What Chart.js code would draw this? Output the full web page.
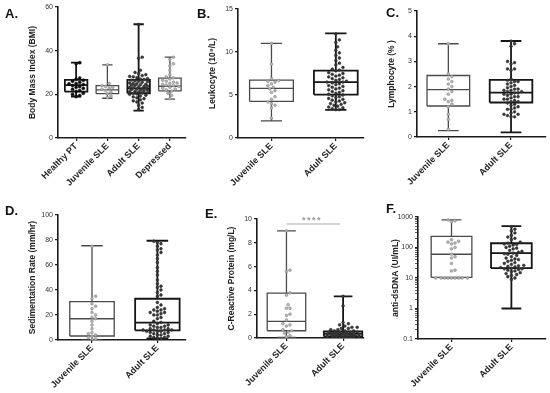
<!DOCTYPE html>
<html><head><meta charset="utf-8">
<script src="https://cdn.jsdelivr.net/npm/chart.js@4.4.1/dist/chart.umd.min.js"></script>
<style>
html,body{margin:0;padding:0;background:#fff}
body{width:550px;height:393px;position:relative;overflow:hidden;font-family:"Liberation Sans",Arial,sans-serif}
canvas{position:absolute}
.lab{position:absolute;font-weight:bold;font-size:13px;line-height:13px;color:#111}
.sig{position:absolute;font-weight:bold;font-size:9px;line-height:9px;color:#999;letter-spacing:1.5px}
</style></head><body>
<canvas id="cA" width="190" height="195" style="left:0;top:0"></canvas>
<canvas id="cB" width="188" height="195" style="left:180px;top:0"></canvas>
<canvas id="cC" width="190" height="195" style="left:360px;top:0"></canvas>
<canvas id="cD" width="190" height="198" style="left:0;top:195px"></canvas>
<canvas id="cE" width="188" height="198" style="left:180px;top:195px"></canvas>
<canvas id="cF" width="190" height="198" style="left:360px;top:195px"></canvas>
<div class="lab" style="left:5px;top:7px">A.</div>
<div class="lab" style="left:197px;top:7px">B.</div>
<div class="lab" style="left:386px;top:6px">C.</div>
<div class="lab" style="left:5px;top:204px">D.</div>
<div class="lab" style="left:205px;top:207px">E.</div>
<div class="lab" style="left:386px;top:202px">F.</div>
<div class="sig" style="left:302px;top:216px">****</div>
<script>
// ---------- data ----------
const bmiLabels = ["Healthy PT", "Juvenile SLE", "Adult SLE", "Depressed"];
// five-number summaries: [min, q1, median, q3, max]
const bmiBoxes = [[19, 21.2, 24.2, 26.6, 34.5], [18.2, 20.3, 22, 24, 33.5], [12.5, 20.5, 22.7, 26.6, 52.1], [17.8, 21.6, 23.7, 27.4, 37]];
const bmiHealthyPts = [34.5, 34, 27.5, 27, 26.5, 26, 25.5, 25, 24.8, 24.5, 24, 23.6, 23.2, 22.8, 22.3, 21.8, 21.3, 20.5, 20, 19.5, 19];
const bmiJuvPts = [33.5, 25, 24, 23.6, 23.2, 22.8, 22.3, 21.8, 21, 20.3, 19.2, 18.5];
const bmiAdultPts = [52, 37, 36.5, 31, 30, 29.5, 29, 28.6, 28.2, 28, 27.6, 27.2, 27, 26.8, 26.5, 26.2, 26, 25.8, 25.5, 25.2, 25, 24.8, 24.6, 24.4, 24.2, 24, 23.8, 23.6, 23.4, 23.2, 23, 22.8, 22.6, 22.4, 22.2, 22, 21.8, 21.6, 21.4, 21.2, 21, 20.8, 20.6, 20.4, 20.2, 20, 19.6, 19.2, 18.8, 18.4, 18, 17.5, 17, 16.5, 16, 15, 14, 13];
const bmiDepPts = [37, 36, 34, 33, 31, 29, 28, 27.5, 27, 26.5, 26, 25.6, 25.2, 25, 24.6, 24.2, 24, 23.6, 23.2, 22.8, 22.4, 22, 21.5, 20.5, 19.5, 18];
const bmiTicks = [0, 20, 40, 60];

const sleLabels = ["Juvenile SLE", "Adult SLE"];

const wbcBoxes = [[2.0, 4.27, 5.78, 6.74, 11], [3.26, 5.04, 6.5, 7.83, 12.17]];
const wbcJuvPts = [11, 8.6, 6.9, 6.7, 6.6, 6.5, 6.3, 6.1, 5.9, 5.7, 5.5, 5.3, 4.8, 4.5, 4.2, 4.0, 3.8, 3.5, 2.3];
const wbcAdultPts = [12.1, 11.4, 11.1, 10.6, 10.2, 9.9, 9.6, 9.3, 9.0, 8.7, 8.5, 8.2, 8.0, 7.9, 7.8, 7.6, 7.5, 7.4, 7.3, 7.2, 7.1, 7.0, 6.9, 6.8, 6.7, 6.6, 6.5, 6.5, 6.4, 6.3, 6.2, 6.1, 6.0, 5.9, 5.8, 5.7, 5.6, 5.5, 5.4, 5.3, 5.2, 5.1, 5.0, 4.9, 4.8, 4.7, 4.6, 4.5, 4.4, 4.3, 4.2, 4.1, 4.0, 3.9, 3.8, 3.7, 3.6, 3.5, 3.4, 3.3, 3.3];
const wbcTicks = [0, 5, 10, 15];

const lymBoxes = [[0.25, 1.23, 1.88, 2.44, 3.70], [0.18, 1.37, 1.76, 2.27, 3.81]];
const lymJuvPts = [3.7, 2.5, 2.4, 2.3, 2.2, 2.1, 2.0, 1.9, 1.8, 1.7, 1.5, 1.45, 1.4, 1.3, 1.2, 0.9, 0.7, 0.3];
const lymAdultPts = [3.8, 3.7, 3.6, 3.0, 2.95, 2.9, 2.7, 2.7, 2.65, 2.3, 2.25, 2.2, 2.2, 2.15, 2.1, 2.05, 2.0, 1.95, 1.9, 1.9, 1.85, 1.85, 1.8, 1.8, 1.75, 1.75, 1.7, 1.7, 1.65, 1.6, 1.6, 1.55, 1.5, 1.5, 1.45, 1.4, 1.4, 1.35, 1.3, 1.25, 1.2, 1.15, 1.1, 1.1, 1.0, 0.95, 0.9, 0.9, 0.85, 0.8, 0.8];
const lymTicks = [0, 1, 2, 3, 4, 5];

const esrBoxes = [[0, 3.2, 17, 30.7, 75.4], [1.2, 7.7, 13.9, 33, 79.4]];
const esrJuvPts = [75, 35, 33, 29, 27, 25, 22, 20, 18, 17, 15, 12, 9, 6, 5, 4, 3, 2, 1, 0];
const esrAdultPts = [79, 78, 77, 75, 73, 72, 70, 68, 65, 62, 58, 55, 52, 48, 45, 43, 42, 40, 38, 36, 35, 30, 28, 26, 25, 24, 24, 23, 22, 22, 21, 20, 20, 18, 17, 15, 14, 13, 12, 12, 11, 11, 10, 10, 9, 9, 8, 8, 8, 8, 7, 7, 7, 6, 6, 5, 5, 4, 4, 3, 3, 2, 2, 1, 1];
const esrTicks = [0, 20, 40, 60, 80, 100];

const crpBoxes = [[0.05, 0.61, 1.39, 3.77, 9.0], [0, 0.13, 0.36, 0.55, 3.5]];
const crpJuvPts = [9.0, 5.7, 5.6, 3.8, 3.6, 2.8, 2.5, 2.5, 2.0, 1.9, 1.5, 1.2, 1.1, 1.0, 0.7, 0.6, 0.5, 0.4, 0.2, 0.1];
const crpAdultPts = [3.5, 2.7, 1.3, 1.2, 1.1, 1.0, 0.9, 0.9, 0.8, 0.8, 0.7, 0.7, 0.6, 0.6, 0.6, 0.5, 0.5, 0.5, 0.5, 0.4, 0.4, 0.4, 0.4, 0.4, 0.3, 0.3, 0.3, 0.3, 0.3, 0.3, 0.2, 0.2, 0.2, 0.2, 0.2, 0.2, 0.1, 0.1, 0.1, 0.1, 0.1, 0.1, 0.05, 0.05, 0.05, 0.05];
const crpTicks = [0, 2, 4, 6, 8, 10];
const crpSigLevel = 9.58;

const dnaBoxes = [[10, 10.5, 60, 230, 810], [1.0, 21, 65, 138, 500]];
const dnaJuvPts = [800, 750, 700, 180, 160, 150, 140, 130, 100, 90, 60, 50, 45, 30, 18, 17, 10, 10, 10, 10, 10, 10, 10, 10, 10];
const dnaAdultPts = [480, 400, 350, 300, 250, 220, 200, 180, 150, 140, 130, 125, 120, 110, 100, 95, 90, 80, 75, 70, 65, 62, 60, 55, 50, 45, 42, 40, 38, 35, 32, 30, 28, 26, 25, 24, 23, 22, 21, 20, 20, 19, 18, 17, 16, 15, 14, 13, 12, 11, 10, 9];
const dnaMajorTicks = [0.1, 1, 10, 100, 1000];

// ---------- styles ----------
const DARK = {box: '#151515', bw: 1.8, pt: '#3a3a3a', ptb: '#222', pr: 1.4};
const MID = {box: '#4a4a4a', bw: 1.3, pt: '#b5b5b5', ptb: '#808080', pr: 1.4};
const BLACKPT = {box: '#151515', bw: 1.8, pt: '#111', ptb: '#000', pr: 1.5};

// beeswarm-style horizontal spread (layout only), clamped to the box width
function swarm(vals, toPx, pxPerX, d, maxPx) {
  const ys = vals.map(toPx);
  const order = ys.map((_, i) => i).sort((a, b) => ys[a] - ys[b]);
  const placed = [], off = new Array(vals.length).fill(0);
  const step = d / 2;
  const nC = Math.floor(maxPx / step);
  const cands = [0];
  for (let k = 1; k <= nC; k++) { cands.push(k * step, -k * step); }
  for (const i of order) {
    const y = ys[i];
    let best = null, bestD = -1, bestC = 0;
    for (const c of cands) {
      let m = Infinity;
      for (const p of placed) { const dd = (p.x - c) ** 2 + (p.y - y) ** 2; if (dd < m) m = dd; }
      if (m >= d * d) { best = c; break; }
      if (m > bestD) { bestD = m; bestC = c; }
    }
    if (best === null) best = bestC;
    placed.push({x: best, y});
    off[i] = best / pxPerX;
  }
  return off;
}

function makePanel(p) {
  const W = p.w, H = p.h;
  const plotW = p.R - p.L, plotH = p.B - p.T;
  const pxPerX = plotW / (p.xMax - p.xMin);
  const pxPerY = p.log ? plotH / (Math.log10(p.yMax) - Math.log10(p.yMin)) : plotH / (p.yMax - p.yMin);
  const toPx = v => p.log ? Math.log10(v) * pxPerY : v * pxPerY;
  const bwH = p.boxHalf || 0.34, capH = 0.165;
  const datasets = [];
  p.groups.forEach((g, i) => {
    const off = swarm(g.pts, toPx, pxPerX, 3.6, bwH * pxPerX - 2);
    datasets.push({
      data: g.pts.map((v, k) => ({x: i + off[k], y: v})),
      showLine: false, pointRadius: g.st.pr, pointBackgroundColor: g.st.pt,
      pointBorderColor: g.st.ptb, pointBorderWidth: 0.5, order: 0
    });
  });
  p.groups.forEach((g, i) => {
    const [mn, q1, md, q3, mx] = g.box;
    const gap = {x: i, y: null};
    datasets.push({
      data: [
        {x: i - bwH, y: q1}, {x: i + bwH, y: q1}, {x: i + bwH, y: q3}, {x: i - bwH, y: q3}, {x: i - bwH, y: q1}, gap,
        {x: i - bwH, y: md}, {x: i + bwH, y: md}, gap,
        {x: i, y: q3}, {x: i, y: mx}, gap,
        {x: i, y: q1}, {x: i, y: mn}, gap,
        {x: i - capH, y: mx}, {x: i + capH, y: mx}, gap,
        {x: i - capH, y: mn}, {x: i + capH, y: mn}
      ],
      showLine: true, spanGaps: false, borderColor: g.st.box, borderWidth: g.st.bw,
      pointRadius: 0, borderJoinStyle: 'miter', order: 1
    });
  });
  if (p.extra) p.extra.forEach(e => datasets.push(e));

  const axisCol = '#1a1a1a';
  new Chart(document.getElementById(p.id), {
    type: 'scatter',
    data: {datasets},
    options: {
      responsive: false, animation: false, devicePixelRatio: 1,
      layout: {padding: {left: p.padL, top: p.T, right: W - p.R, bottom: 0}},
      plugins: {legend: {display: false}, tooltip: {enabled: false}},
      elements: {line: {tension: 0}},
      scales: {
        x: {
          type: 'linear', min: p.xMin, max: p.xMax,
          afterBuildTicks: s => { s.ticks = p.labels.map((_, i) => ({value: i})); },
          ticks: {
            callback: v => p.labels[Math.round(v)] || '', minRotation: 45, maxRotation: 45, autoSkip: false,
            font: {family: '"Liberation Sans", Arial, sans-serif', size: 9, weight: 'bold'}, color: '#222', padding: 0
          },
          grid: {display: true, drawOnChartArea: false, drawTicks: true, tickLength: 3, color: axisCol, lineWidth: 1.2},
          border: {display: true, color: axisCol, width: 1.6},
          afterFit: s => { s.height = H - p.B; }
        },
        y: {
          type: p.log ? 'logarithmic' : 'linear', min: p.yMin, max: p.yMax,
          afterBuildTicks: s => { s.ticks = p.yTicks.map(v => ({value: v, major: true})); },
          ticks: {
            callback: v => p.log ? (p.yMajor.indexOf(v) >= 0 ? String(v) : '') : String(v),
            autoSkip: false, font: {family: '"Liberation Sans", Arial, sans-serif', size: 7}, color: '#333', padding: 2
          },
          grid: {display: true, drawOnChartArea: false, drawTicks: true, tickLength: 3, color: axisCol,
                 lineWidth: c => (p.log && p.yMajor.indexOf(c.tick && c.tick.value) < 0) ? 0.7 : 1.2},
          border: {display: true, color: axisCol, width: 1.6},
          title: {display: true, text: p.title, color: '#222', padding: {top: 0, bottom: 2},
                  font: {family: '"Liberation Sans", Arial, sans-serif', size: 8.5, weight: 'bold'}},
          afterFit: s => { s.width = p.L - p.padL; }
        }
      }
    }
  });
}

// log minor ticks for panel F
const dnaAllTicks = [];
dnaMajorTicks.forEach((m, i) => {
  if (i < dnaMajorTicks.length - 1) { for (let k = 1; k < 10; k++) dnaAllTicks.push(+(m * k).toPrecision(3)); }
  else dnaAllTicks.push(m);
});

makePanel({id: 'cA', w: 190, h: 195, L: 58, T: 7, R: 186, B: 138, padL: 28, xMin: -0.58, xMax: 3.5,
  yMin: 0, yMax: 60, yTicks: bmiTicks, labels: bmiLabels, title: 'Body Mass Index (BMI)', boxHalf: 0.36,
  groups: [{box: bmiBoxes[0], pts: bmiHealthyPts, st: BLACKPT}, {box: bmiBoxes[1], pts: bmiJuvPts, st: MID},
           {box: bmiBoxes[2], pts: bmiAdultPts, st: DARK}, {box: bmiBoxes[3], pts: bmiDepPts, st: MID}]});

makePanel({id: 'cB', w: 188, h: 195, L: 58, T: 9, R: 185, B: 138, padL: 28, xMin: -0.52, xMax: 1.43,
  yMin: 0, yMax: 15, yTicks: wbcTicks, labels: sleLabels, title: 'Leukocyte (10\u2079/L)',
  groups: [{box: wbcBoxes[0], pts: wbcJuvPts, st: MID}, {box: wbcBoxes[1], pts: wbcAdultPts, st: DARK}]});

makePanel({id: 'cC', w: 190, h: 195, L: 57, T: 11, R: 188, B: 137, padL: 27, xMin: -0.5, xMax: 1.55,
  yMin: 0, yMax: 5, yTicks: lymTicks, labels: sleLabels, title: 'Lymphocyte (% )',
  groups: [{box: lymBoxes[0], pts: lymJuvPts, st: MID}, {box: lymBoxes[1], pts: lymAdultPts, st: DARK}]});

makePanel({id: 'cD', w: 190, h: 198, L: 58, T: 20, R: 186, B: 145, padL: 28, xMin: -0.52, xMax: 1.43,
  yMin: 0, yMax: 100, yTicks: esrTicks, labels: sleLabels, title: 'Sedimentation Rate (mm/hr)',
  groups: [{box: esrBoxes[0], pts: esrJuvPts, st: MID}, {box: esrBoxes[1], pts: esrAdultPts, st: DARK}]});

makePanel({id: 'cE', w: 188, h: 198, L: 77, T: 24, R: 186, B: 143, padL: 47, xMin: -0.52, xMax: 1.36,
  yMin: 0, yMax: 10, yTicks: crpTicks, labels: sleLabels, title: 'C-Reactive Protein (mg/L)',
  groups: [{box: crpBoxes[0], pts: crpJuvPts, st: MID}, {box: crpBoxes[1], pts: crpAdultPts, st: DARK}],
  extra: [{data: [{x: 0, y: crpSigLevel}, {x: 0.95, y: crpSigLevel}], showLine: true, borderColor: '#aaa',
           borderWidth: 1, pointRadius: 0, order: 2}]});

makePanel({id: 'cF', w: 190, h: 198, L: 58, T: 22, R: 188, B: 144, padL: 31, xMin: -0.56, xMax: 1.57, log: true,
  yMin: 0.1, yMax: 1000, yTicks: dnaAllTicks, yMajor: dnaMajorTicks, labels: sleLabels, title: 'anti-dsDNA (UI/mL)',
  groups: [{box: dnaBoxes[0], pts: dnaJuvPts, st: MID}, {box: dnaBoxes[1], pts: dnaAdultPts, st: DARK}]});
</script>
</body></html>
